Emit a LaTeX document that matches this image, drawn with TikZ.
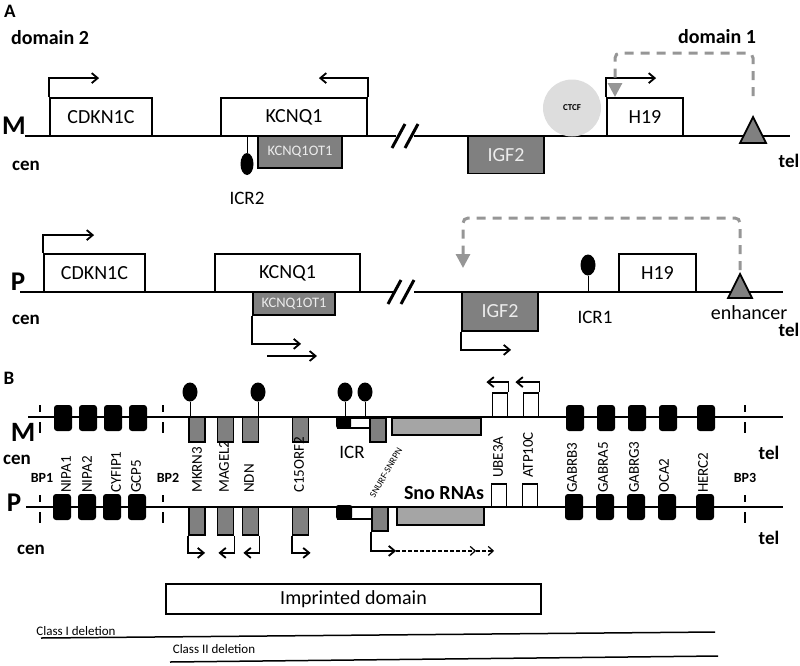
\documentclass[tikz,border=0pt]{standalone}
\usepackage{fontspec}
\setmainfont{Carlito}
\usepackage{xcolor}
\usepackage{tikz}
\usetikzlibrary{arrows.meta,shapes.geometric}
\definecolor{geneGray}{RGB}{128,128,128}
\definecolor{snoGray}{RGB}{165,165,165}
\definecolor{ctcfGray}{RGB}{221,221,221}
\definecolor{enhGray}{RGB}{150,150,150}
\definecolor{paleText}{RGB}{236,236,236}
\newcommand{\fsz}[1]{\fontsize{#1}{#1}\selectfont}

\begin{document}
\begin{tikzpicture}[x=1pt,y=-1pt,
  chrom/.style={line width=2pt},
  gene/.style={draw,line width=1.8pt,fill=white,inner sep=0pt,font=\fsz{20}},
  gray gene/.style={gene,fill=geneGray,text=paleText},
  tss/.style={line width=1.8pt,-{Straight Barb[length=6pt,width=10pt]}},
  tssdash/.style={line width=1.2pt,dash pattern=on 4pt off 2pt,-{Straight Barb[length=5pt,width=9pt]}},
  enhpath/.style={enhGray,line width=3pt,dash pattern=on 9pt off 7pt,rounded corners=5pt,-{Triangle[length=14pt,width=14pt]}},
  lolli/.style={ellipse,fill=black,inner sep=0pt},
  blk/.style={fill=black,rounded corners=3pt,minimum width=18pt,minimum height=26pt,inner sep=0pt},
  imp/.style={draw,line width=1.8pt,fill=geneGray,minimum width=16pt,inner sep=0pt},
  openbox/.style={draw,line width=1.8pt,fill=white,inner sep=0pt,minimum width=15pt},
  vlab/.style={rotate=90,anchor=west,inner sep=0pt,font=\fsz{15}},
  bpmark/.style={line width=2pt,dash pattern=on 7pt off 10pt on 11pt},
  hd/.style={font=\bfseries\fsz{19}}]
\useasboundingbox (0,0) rectangle (800,665);

\node[hd] (labA) at (10,11) {A};
\node[font=\bfseries\fsz{20}] (domTwo) at (50,38) {domain 2};
\node[font=\bfseries\fsz{20}] (domOne) at (717,37) {domain 1};

\node[font=\bfseries\fsz{27}] (mA) at (14,126) {M};
\node[hd] (cenMA) at (26,166) {cen};
\node[hd] (telMA) at (789,161) {tel};
\draw[chrom] (25,136) -- (396,136) (414,136) -- (790,136);
\draw[line width=3pt] (392,148) -- (405,124) (405,148) -- (418,124);
\node[gene,minimum width=102pt,minimum height=38pt] (cdkM) at (101,117) {CDKN1C};
\draw[tss] (cdkM.north west) -- ++(0,-19) -- ++(50,0);
\node[gene,minimum width=146pt,minimum height=38pt] (kcnM) at (294,117) {KCNQ1};
\draw[tss] (kcnM.north east) -- ++(0,-19) -- ++(-49,0);
\node[gray gene,minimum width=84pt,minimum height=32pt,font=\fsz{14.5}] (otM) at (300,152) {KCNQ1OT1};
\node[lolli,minimum width=13pt,minimum height=22pt] (icrTwo) at (247,164) {};
\draw[thin] (icrTwo.north) -- (icrTwo.north |- kcnM.south);
\node[font=\fsz{19}] (icrTwoLab) at (247,198) {ICR2};
\node[gray gene,minimum width=76pt,minimum height=37pt] (igfM) at (506,155) {IGF2};
\node[ellipse,fill=ctcfGray,minimum width=58pt,minimum height=57pt,inner sep=0pt,font=\bfseries\fsz{9}] (ctcf) at (572,108) {CTCF};
\node[gene,minimum width=76pt,minimum height=38pt] (hM) at (645,117) {H19};
\draw[tss] (hM.north west) -- ++(0,-19) -- ++(50,0);
\coordinate (enhM) at (753,117);
\draw[fill=geneGray,line width=1.8pt] (740,143) -- (766,143) -- (enhM) -- cycle;
\coordinate (tgtM) at (615,97);
\draw[enhpath] ([yshift=21pt]enhM) -- ++(0,-43) -| (tgtM);

\node[font=\bfseries\fsz{27}] (pA) at (18,282) {P};
\node[hd] (cenPA) at (26,320) {cen};
\node[hd] (telPA) at (789,330) {tel};
\draw[chrom] (20,292) -- (396,292) (414,292) -- (783,292);
\draw[line width=3pt] (388,304) -- (401,280) (401,304) -- (414,280);
\node[gene,minimum width=101pt,minimum height=38pt] (cdkP) at (94.5,273) {CDKN1C};
\draw[tss] (cdkP.north west) -- ++(0,-18) -- ++(51,0);
\node[gene,minimum width=145pt,minimum height=38pt] (kcnP) at (287.5,273) {KCNQ1};
\node[gray gene,minimum width=82pt,minimum height=23pt,font=\fsz{14.5}] (otP) at (294,303.5) {KCNQ1OT1};
\draw[tss] (otP.south west) -- ++(0,28) -- ++(49,0);
\coordinate (antiA) at (267,356);
\draw[tss] (antiA) -- ++(50,0);
\node[gray gene,minimum width=76pt,minimum height=39pt] (igfP) at (500,311.5) {IGF2};
\draw[tss] (igfP.south west) -- ++(0,18) -- ++(50,0);
\node[lolli,minimum width=15pt,minimum height=21pt] (icrOne) at (588,265) {};
\draw[thin] (icrOne.south) -- (icrOne.south |- igfP.north);
\node[font=\fsz{19}] (icrOneLab) at (595,317) {ICR1};
\node[gene,minimum width=77pt,minimum height=38pt] (hP) at (657.5,273) {H19};
\coordinate (enhP) at (740,274);
\draw[fill=geneGray,line width=1.8pt] (728,298) -- (752,298) -- (enhP) -- cycle;
\node[font=\fsz{20}] (enhLab) at (749,313) {enhancer};
\coordinate (tgtP) at (463,268);
\draw[enhpath] ([yshift=4pt]enhP) -- ++(0,-52) -| (tgtP);

\node[hd] (labB) at (9,378) {B};
\draw[chrom] (28,417) -- (783,417);
\draw[chrom] (26,507) -- (783,507);
\node[font=\bfseries\fsz{28}] (mB) at (23,432) {M};
\node[hd] (cenMB) at (17,460) {cen};
\node[font=\bfseries\fsz{27}] (pB) at (14,503) {P};
\node[hd] (cenPB) at (31,550) {cen};
\node[hd] (telMB) at (769,453) {tel};
\node[hd] (telPB) at (769,538) {tel};
\foreach \x/\lx/\nm in {40/42/BP1,163/168/BP2,745/745/BP3}{
  \draw[bpmark] (\x,405) -- (\x,433) (\x,495) -- (\x,523);
  \node[font=\bfseries\fsz{14}] (\nm) at (\lx,478) {\nm};
}
\foreach \x/\lx/\nm in {63/66/NIPA1,88/87/NIPA2,113/116/CYFIP1,138/136/GCP5,575/572/GABRB3,606/603/GABRA5,637/634/GABRG3,668/664/OCA2,706/703/HERC2}{
  \node[blk] (\nm-m) at (\x,418) {};
  \node[blk] (\nm-p) at (\x-1,507) {};
  \node[vlab] (\nm-l) at (\lx,493) {\nm};
}
\foreach \x/\lx/\nm in {197/197/MKRN3,225.5/224/MAGEL2,250.5/249/NDN,300.5/299/C15ORF2}{
  \node[imp,minimum height=25pt] (\nm-m) at (\x,429.5) {};
  \node[imp,minimum height=28pt] (\nm-p) at (\x,521) {};
  \node[vlab] (\nm-l) at (\lx,493) {\nm};
}
\draw[tss] (MKRN3-p.south west) -- ++(0,17) -- ++(17,0);
\draw[tss] (MAGEL2-p.south east) -- ++(0,17) -- ++(-16,0);
\draw[tss] (NDN-p.south east) -- ++(0,17) -- ++(-16,0);
\draw[tss] (C15ORF2-p.south west) -- ++(0,17) -- ++(19,0);
\foreach \x in {190,258,345,365}{
  \node[lolli,minimum width=15pt,minimum height=19pt] (lp\x) at (\x,392) {};
  \draw[thin] (lp\x.south) -- ++(0,16);
}
\node[draw,line width=1.8pt,fill=white,minimum width=32pt,minimum height=10pt,inner sep=0pt] (icrM) at (354,423) {};
\fill[rounded corners=2pt] (icrM.north west) ++(-1,-1) rectangle ++(15,12);
\node[draw,line width=1.8pt,fill=white,minimum width=34pt,minimum height=12pt,inner sep=0pt] (icrP) at (355,513) {};
\fill[rounded corners=2pt] (icrP.north west) ++(-1,-1) rectangle ++(16,14);
\node[font=\fsz{19}] (icrLab) at (352,452) {ICR};
\node[imp,minimum height=24pt] (snurf-m) at (378,430) {};
\node[imp,minimum height=24pt] (snurf-p) at (380,519) {};
\node[rotate=60,font=\fsz{9.5},inner sep=0pt] (snurfLab) at (386,473) {SNURF-SNRPN};
\node[imp,fill=snoGray,minimum width=89pt,minimum height=17pt] (sno-m) at (436.5,426.5) {};
\node[imp,fill=snoGray,minimum width=87pt,minimum height=18pt] (sno-p) at (440.5,516) {};
\node[font=\bfseries\fsz{20}] (snoLab) at (444,493) {Sno RNAs};
\draw[tss] (snurf-p.south west) -- ++(0,19) -- ++(25,0) coordinate (snoA);
\draw[tssdash] (snoA) -- ++(80,0) coordinate (snoB);
\draw[tssdash] (snoB) -- ++(18,0);
\node[openbox,minimum height=24pt] (UBE3A-m) at (500,405) {};
\draw[tss] (UBE3A-m.north east) -- ++(0,-10) -- ++(-22,0);
\node[openbox,minimum height=24pt] (ATP10C-m) at (531,405) {};
\draw[tss] (ATP10C-m.north east) -- ++(0,-10) -- ++(-24,0);
\node[openbox,minimum height=23pt] (UBE3A-p) at (499,495.5) {};
\node[openbox,minimum height=23pt] (ATP10C-p) at (530,495.5) {};
\node[vlab] (UBE3A-l) at (498,478) {UBE3A};
\node[vlab] (ATP10C-l) at (528,478) {ATP10C};

\node[draw,line width=1.5pt,minimum width=375pt,minimum height=30pt,font=\fsz{20}] (impDom) at (353.5,599) {Imprinted domain};
\node[font=\fsz{13}] (clsOne) at (76,631) {Class I deletion};
\draw[line width=1.5pt] (41,638) -- (715,632);
\node[font=\fsz{13}] (clsTwo) at (214,649) {Class II deletion};
\draw[line width=1.5pt] (170,662) -- (718,656);
\end{tikzpicture}
\end{document}
